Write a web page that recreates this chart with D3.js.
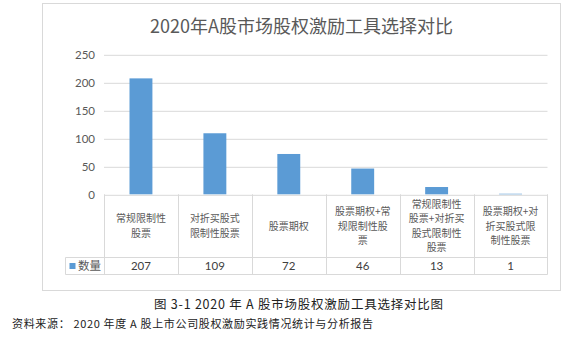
<!DOCTYPE html>
<html>
<head>
<meta charset="utf-8">
<script src="https://cdn.jsdelivr.net/npm/d3@7/dist/d3.min.js"></script>
<style>
html,body{margin:0;padding:0;background:#fff;}
svg{display:block;}
</style>
</head>
<body>
<svg id="chart" width="580" height="344"></svg>
<script>
const chartTitle = "2020年A股市场股权激励工具选择对比";
const categories = ["常规限制性股票","对折买股式限制性股票","股票期权","股票期权+常规限制性股票","常规限制性股票+对折买股式限制性股票","股票期权+对折买股式限制性股票"];
const categoryLines = [
  ["常规限制性","股票"],
  ["对折买股式","限制性股票"],
  ["股票期权"],
  ["股票期权+常","规限制性股","票"],
  ["常规限制性","股票+对折买","股式限制性","股票"],
  ["股票期权+对","折买股式限","制性股票"]
];
const seriesName = "数量";
const values = [207, 109, 72, 46, 13, 1];
const yTicks = [0, 50, 100, 150, 200, 250];
const caption = "图 3-1 2020 年 A 股市场股权激励工具选择对比图";
const source = "资料来源： 2020 年度 A 股上市公司股权激励实践情况统计与分析报告";

const svg = d3.select("#chart");
const grid = "#d9d9d9";
const txt = "#595959";
const barColor = "#5B9BD5";
const cjk = "'Noto Sans CJK SC', 'Noto Sans', sans-serif";
const num = "Lato, 'Noto Sans', sans-serif";

// outer chart box
svg.append("rect").attr("x", 42.5).attr("y", 3.5).attr("width", 518).attr("height", 287)
  .attr("fill", "#fff").attr("stroke", grid).attr("stroke-width", 1);

// title
svg.append("text").attr("x", 301.5).attr("y", 32.5).attr("text-anchor", "middle")
  .attr("font-family", cjk).attr("font-size", 18).attr("fill", txt).text(chartTitle);

const left = 104, right = 547.5, y0 = 194.3, yTop = 54.3;
const x = d3.scaleBand().domain(categories).range([left, right]).paddingInner(0).paddingOuter(0);
const y = d3.scaleLinear().domain([0, 250]).range([y0, yTop]);

// gridlines + y axis labels
const yAxis = d3.axisLeft(y).tickValues(yTicks).tickSize(-(right - left)).tickPadding(9).tickFormat(d3.format("d"));
const gy = svg.append("g").attr("transform", `translate(${left},0)`).call(yAxis);
gy.select(".domain").remove();
gy.selectAll(".tick line").attr("stroke", grid).attr("stroke-width", 1)
  .attr("transform", "translate(0,0.5)");
gy.selectAll(".tick text").attr("font-family", num).attr("font-size", 11.5).attr("fill", txt)
  .attr("dy", "0.35em");

// bars
const bw = x.bandwidth() * 0.31;
svg.append("g").selectAll("rect").data(values).join("rect")
  .attr("x", (d, i) => x(categories[i]) + (x.bandwidth() - bw) / 2)
  .attr("y", d => y(d))
  .attr("width", bw)
  .attr("height", d => y(0) - y(d))
  .attr("fill", barColor);

// data table
const rowSep = 257.5, rowBottom = 274.5, legLeft = 65.5;
const tbl = svg.append("g").attr("stroke", grid).attr("stroke-width", 1);
categories.forEach((c, i) => {
  const xx = Math.round(x(c)) + 0.5;
  tbl.append("line").attr("x1", xx).attr("x2", xx).attr("y1", y0).attr("y2", rowBottom);
});
tbl.append("line").attr("x1", Math.round(right) - 0.5).attr("x2", Math.round(right) - 0.5).attr("y1", y0).attr("y2", rowBottom);
tbl.append("line").attr("x1", legLeft).attr("x2", right).attr("y1", rowSep).attr("y2", rowSep);
tbl.append("line").attr("x1", legLeft).attr("x2", right).attr("y1", rowBottom).attr("y2", rowBottom);
tbl.append("line").attr("x1", legLeft).attr("x2", legLeft).attr("y1", rowSep).attr("y2", rowBottom);

// category labels
const lh = 14.5;
const catMid = (y0 + rowSep) / 2;
categoryLines.forEach((lines, i) => {
  const cx = x(categories[i]) + x.bandwidth() / 2;
  const startY = catMid - (lines.length - 1) * lh / 2;
  lines.forEach((ln, j) => {
    svg.append("text").attr("text-anchor", "middle")
      .attr("font-family", cjk).attr("font-size", 10).attr("fill", txt)
      .attr("x", cx).attr("y", startY + j * lh).attr("dy", "0.36em").text(ln);
  });
});

// values row
const valY = (rowSep + rowBottom) / 2;
values.forEach((v, i) => {
  svg.append("text").attr("x", x(categories[i]) + x.bandwidth() / 2).attr("y", valY)
    .attr("dy", "0.36em").attr("text-anchor", "middle")
    .attr("font-family", num).attr("font-size", 11.5).attr("fill", "#404040").text(v);
});

// legend cell
svg.append("rect").attr("x", 69.5).attr("y", valY - 3).attr("width", 6).attr("height", 6).attr("fill", barColor);
svg.append("text").attr("x", 78).attr("y", valY).attr("dy", "0.36em")
  .attr("font-family", cjk).attr("font-size", 11.5).attr("fill", txt).text(seriesName);

// caption & source
svg.append("text").attr("x", 154).attr("y", 309)
  .attr("font-family", "'Noto Sans CJK SC', serif").attr("font-size", 12.5).attr("fill", "#222")
  .attr("textLength", 289).attr("lengthAdjust", "spacing").text(caption);
svg.append("text").attr("x", 12).attr("y", 327.5)
  .attr("font-family", "'Noto Sans CJK SC', serif").attr("font-size", 11).attr("fill", "#222")
  .attr("textLength", 361).attr("lengthAdjust", "spacing").text(source);
</script>
</body>
</html>
